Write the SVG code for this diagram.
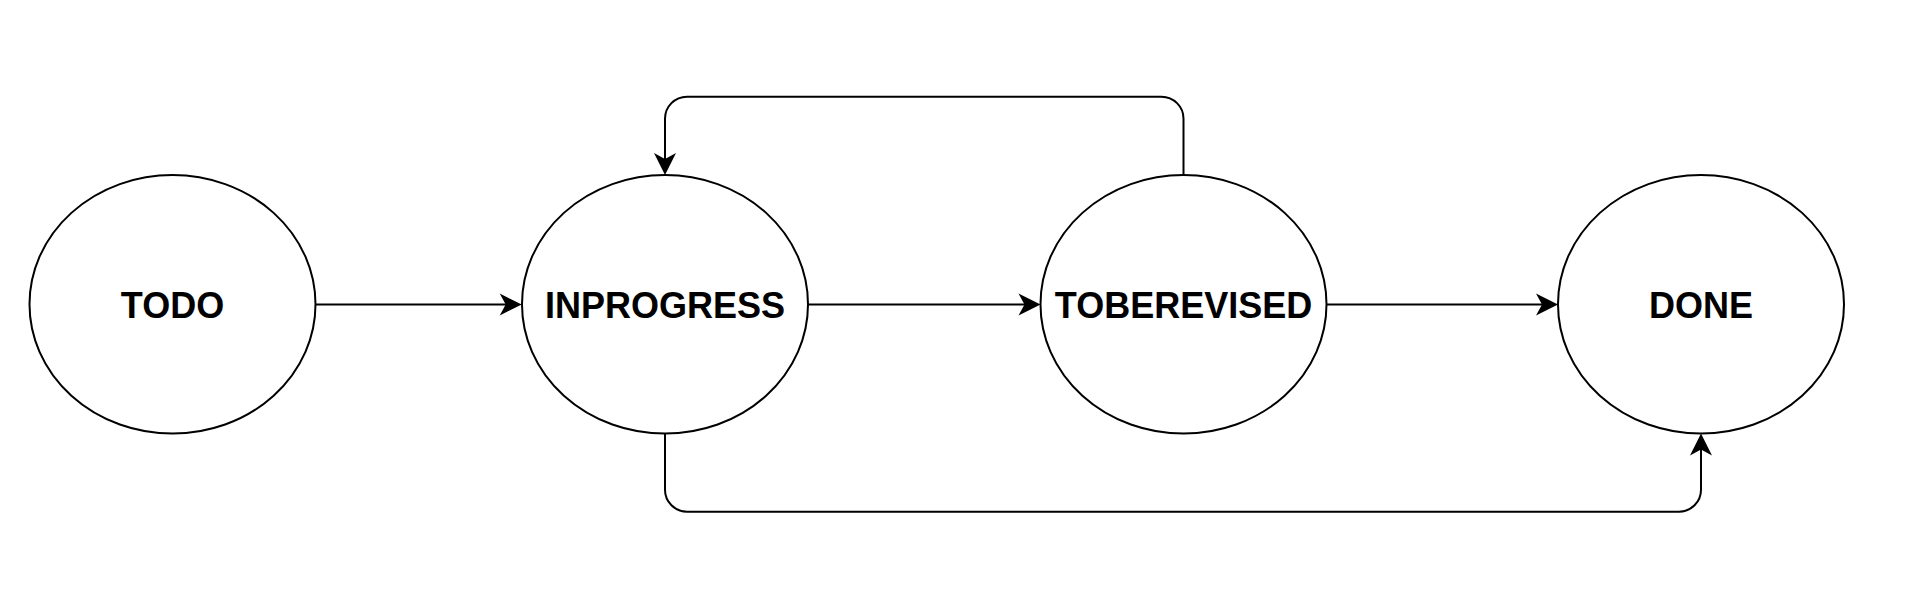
<svg xmlns="http://www.w3.org/2000/svg" width="1919" height="609" viewBox="0 0 1919 609">
  <style>
    .node { fill: #ffffff; stroke: #000000; stroke-width: 2; }
    .label { font-family: "Liberation Sans", Arial, sans-serif; font-weight: bold; font-size: 36px; fill: #000000; text-anchor: middle; }
    .edge { fill: none; stroke: #000000; stroke-width: 2; marker-end: url(#arrow); }
  </style>
  <defs>
    <marker id="arrow" markerUnits="userSpaceOnUse" viewBox="-8 -12 24 24" markerWidth="24" markerHeight="24" refX="0" refY="0" orient="auto">
      <path d="M15,0 L-7,-11 L-1,0 L-7,11 Z" fill="#000000" stroke="none"/>
    </marker>
  </defs>
  <rect x="0" y="0" width="1919" height="609" fill="#ffffff"/>
  <g id="connectors">
    <path class="edge" d="M315,304.5 H506.7"/>
    <path class="edge" d="M808,304.5 H1025.5"/>
    <path class="edge" d="M1326.5,304.5 H1543"/>
    <path class="edge" d="M1183.5,175 V118.7 A22,22 0 0 0 1161.5,96.7 H687 A22,22 0 0 0 665,118.7 V160"/>
    <path class="edge" d="M665,433.5 V489.7 A22,22 0 0 0 687,511.7 H1679 A22,22 0 0 0 1701,489.7 V448.5"/>
  </g>
  <g id="node-todo">
    <ellipse class="node" cx="172.5" cy="304.3" rx="143" ry="129.3"/>
    <text class="label" x="172.5" y="318">TODO</text>
  </g>
  <g id="node-inprogress">
    <ellipse class="node" cx="665" cy="304.3" rx="143" ry="129.3"/>
    <text class="label" x="665" y="318">INPROGRESS</text>
  </g>
  <g id="node-toberevised">
    <ellipse class="node" cx="1183.5" cy="304.3" rx="143" ry="129.3"/>
    <text class="label" x="1183.5" y="318">TOBEREVISED</text>
  </g>
  <g id="node-done">
    <ellipse class="node" cx="1701" cy="304.3" rx="143" ry="129.3"/>
    <text class="label" x="1701" y="318">DONE</text>
  </g>
</svg>
